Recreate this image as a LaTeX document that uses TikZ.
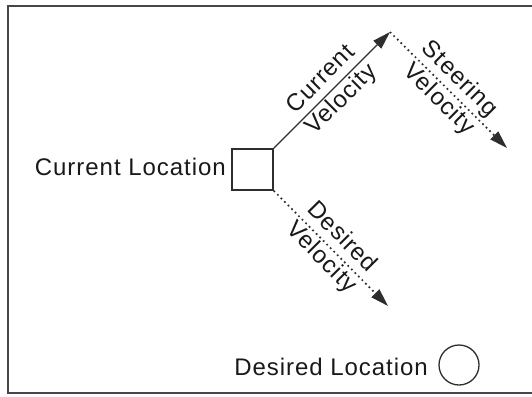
\documentclass[tikz,border=0pt]{standalone}
\usepackage{fontspec}
\setmainfont{Liberation Sans}[LetterSpace=4]
\usetikzlibrary{arrows.meta}

\begin{document}
\begin{tikzpicture}[x=1pt, y=-1pt,
  lab/.style={font=\fontsize{24}{28}\selectfont, text=black!90, inner sep=0pt},
  frame/.style={draw=black!72, line width=2.6pt},
  vec/.style={draw=black!82, line width=1.3pt, -{Triangle[length=18pt, width=11pt]}},
  dotvec/.style={vec, line width=1.7pt, dash pattern=on 1.7pt off 3.3pt},
  above lab/.style={lab, pos=0.5, sloped, anchor=base, yshift=9pt},
  below lab/.style={lab, pos=0.5, sloped, anchor=base, yshift=-20pt}
]
\useasboundingbox (0,0) rectangle (532,396);

% open frame: left, top and bottom edges
\draw[frame] (532,6) -- (8,6) -- (8,393) -- (532,393);

% agent at its current location, and the target
\node[draw=black!82, line width=1.5pt, minimum size=41pt, inner sep=0pt] (cl) at (252.5,169.5) {};
\node[lab, anchor=base east] (cltext) at (226,175) {Current Location};
\node[circle, draw=black!82, line width=1.3pt, minimum size=40pt, inner sep=0pt] (dl) at (459,365) {};
\node[lab, anchor=base east] (dltext) at (428,375) {Desired Location};

% vector end points
\coordinate (cvtip) at (390,32);
\coordinate (svtip) at (507,148);
\coordinate (dvtip) at (388,306);

% current velocity
\draw[vec] (cl.north east) -- (cvtip)
  node[above lab] {Current}
  node[below lab] {Velocity};

% steering velocity, from the tip of the current velocity
\draw[dotvec] (cvtip) -- (svtip)
  node[above lab] {Steering}
  node[below lab] {Velocity};

% desired velocity
\draw[dotvec] (cl.south east) -- (dvtip)
  node[above lab] {Desired}
  node[below lab] {Velocity};
\end{tikzpicture}
\end{document}
